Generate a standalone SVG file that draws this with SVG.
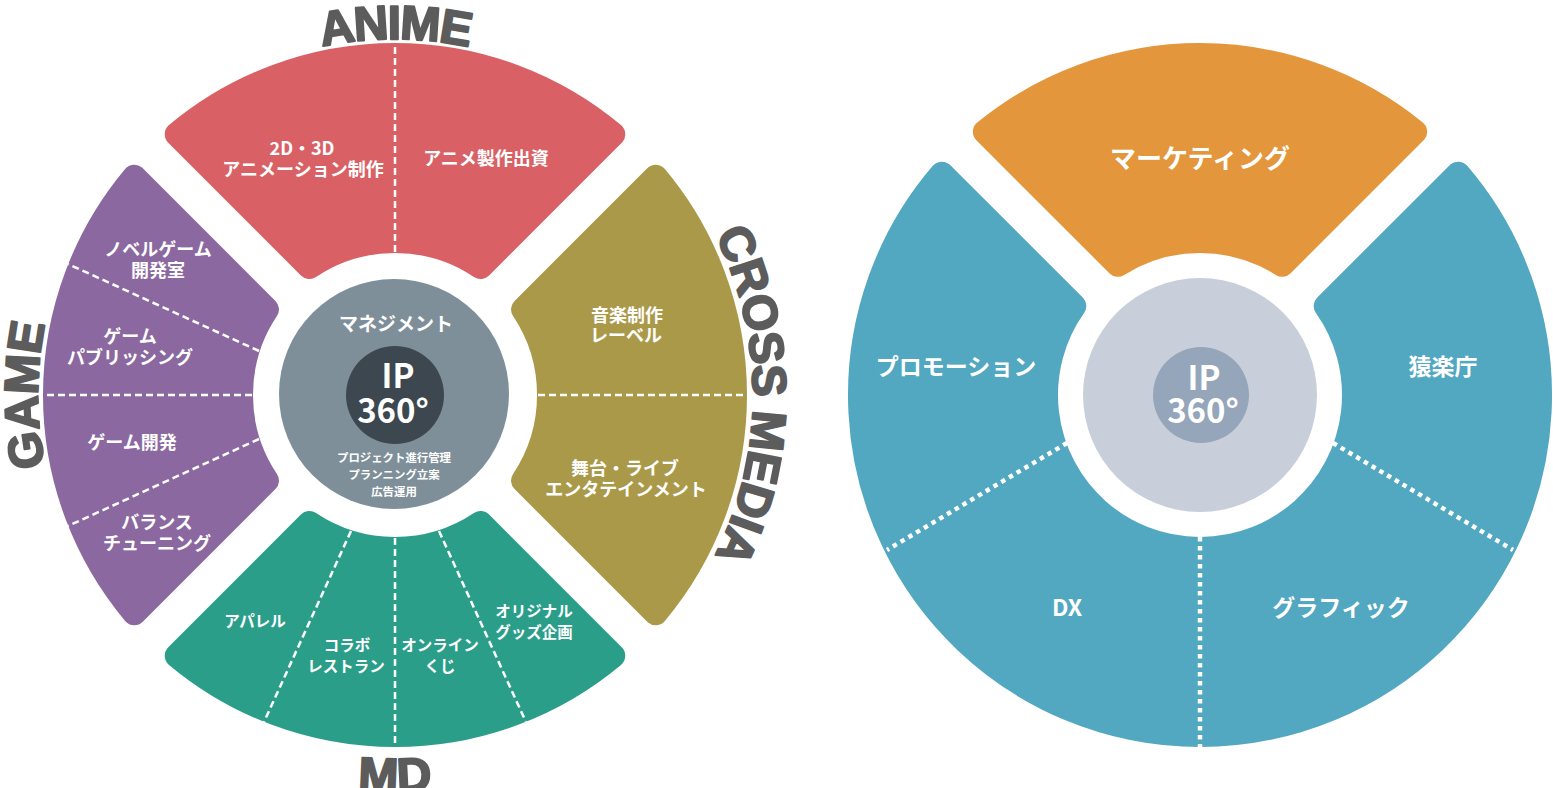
<svg xmlns="http://www.w3.org/2000/svg" width="1553" height="788" viewBox="0 0 1553 788">
<style>
.seg{stroke-width:24;stroke-linejoin:round}
.lbl{font-family:"Noto Sans CJK JP","Noto Sans",sans-serif;font-weight:700;font-size:18px;fill:#fff;text-anchor:middle}
.md{font-size:15.5px}
.sm{font-size:11.4px}
.mg{font-size:19px}
.big{font-size:33px}
.rl{font-size:23px}
.mk{font-size:26px}
.head{font-family:"Liberation Sans","Arial",sans-serif;font-weight:700;font-size:48px;fill:#5c5c5c;stroke:#5c5c5c;stroke-width:2;stroke-linejoin:round}
.dash{stroke:#fff;stroke-width:2.5;stroke-dasharray:7 4;fill:none}
.dot{stroke:#fff;stroke-width:4.5;stroke-dasharray:4.5 4.5;fill:none}
</style>
<defs>
<path id="segL" d="M-218.27,-260.7 A340 340 0 0 1 218.27,-260.7 L85.6,-128.03 A154 154 0 0 0 -85.6,-128.03 Z"/>
<path id="arcTop" d="M39,395 A356 356 0 0 1 751,395"/>
<path id="arcLeft" d="M395,752 A357 357 0 0 1 395,38"/>
<path id="arcRight" d="M395,37 A358 358 0 0 1 395,753"/>
<path id="arcBottom" d="M-2,395 A397 397 0 0 0 792,395"/>
</defs>

<g id="anime">
<use href="#segL" class="seg" transform="translate(395,395)" fill="#D96166" stroke="#D96166"/>
<text class="lbl" x="302" y="155">2D・3D</text>
<text class="lbl" x="303" y="176">アニメーション制作</text>
<text class="lbl" x="486" y="165">アニメ製作出資</text>
<text class="head" font-size="50" letter-spacing="-1.5"><textPath href="#arcTop" startOffset="50%" text-anchor="middle">ANIME</textPath></text>
</g>

<g id="crossmedia">
<use href="#segL" class="seg" transform="translate(395,395) rotate(90)" fill="#AB994A" stroke="#AB994A"/>
<text class="lbl" x="627" y="322">音楽制作</text>
<text class="lbl" x="626" y="342">レーベル</text>
<text class="lbl" x="625" y="475">舞台・ライブ</text>
<text class="lbl" x="626" y="496">エンタテインメント</text>
<text class="head" font-size="46" letter-spacing="-0.5"><textPath href="#arcRight" startOffset="50%" text-anchor="middle">CROSS MEDIA</textPath></text>
</g>

<g id="md">
<use href="#segL" class="seg" transform="translate(395,395) rotate(180)" fill="#2B9E8A" stroke="#2B9E8A"/>
<text class="lbl md" x="255" y="627">アパレル</text>
<text class="lbl md" x="347" y="651">コラボ</text>
<text class="lbl md" x="346" y="672">レストラン</text>
<text class="lbl md" x="440" y="651">オンライン</text>
<text class="lbl md" x="440" y="672">くじ</text>
<text class="lbl md" x="534" y="617">オリジナル</text>
<text class="lbl md" x="534" y="638">グッズ企画</text>
<text class="head"><textPath href="#arcBottom" startOffset="50%" text-anchor="middle">MD</textPath></text>
</g>

<g id="game">
<use href="#segL" class="seg" transform="translate(395,395) rotate(270)" fill="#8B69A0" stroke="#8B69A0"/>
<text class="lbl" x="158" y="256">ノベルゲーム</text>
<text class="lbl" x="158" y="277">開発室</text>
<text class="lbl" x="130" y="343">ゲーム</text>
<text class="lbl" x="130" y="364">パブリッシング</text>
<text class="lbl" x="132" y="449">ゲーム開発</text>
<text class="lbl" x="157" y="529">バランス</text>
<text class="lbl" x="157" y="550">チューニング</text>
<text class="head"><textPath href="#arcLeft" startOffset="50%" text-anchor="middle">GAME</textPath></text>
</g>

<g id="management">
<circle cx="394" cy="394" r="115" fill="#7E8F99"/>
<circle cx="395" cy="395" r="49" fill="#3D4750"/>
<text class="lbl mg" x="396" y="331">マネジメント</text>
<text class="lbl big" x="398" y="388">IP</text>
<text class="lbl big" x="393" y="423">360°</text>
<text class="lbl sm" x="394" y="462">プロジェクト進行管理</text>
<text class="lbl sm" x="394" y="479">プランニング立案</text>
<text class="lbl sm" x="394" y="496">広告運用</text>
</g>

<g id="marketing">
<path class="seg" transform="translate(1200,395)" fill="#E3963B" stroke="#E3963B" d="M-215.17,-263.25 A340 340 0 0 1 215.17,-263.25 L82.17,-130.25 A154 154 0 0 0 -82.17,-130.25 Z"/>
<text class="lbl mk" x="1200" y="168">マーケティング</text>
</g>

<g id="blue-ring">
<path class="seg" transform="translate(1200,395)" fill="#52A7C1" stroke="#52A7C1" d="M-258.1,-221.33 A340 340 0 1 0 258.1,-221.33 L125.72,-88.95 A154 154 0 1 1 -125.72,-88.95 Z"/>
<text class="lbl rl" x="956" y="375">プロモーション</text>
<text class="lbl rl" x="1443" y="375">猿楽庁</text>
<text class="lbl rl" x="1067" y="616">DX</text>
<text class="lbl rl" x="1341" y="616">グラフィック</text>
</g>

<g id="ip-center">
<circle cx="1200" cy="395" r="117" fill="#C8CFDA"/>
<circle cx="1201" cy="395" r="48" fill="#95A5BA"/>
<text class="lbl big" x="1204" y="390">IP</text>
<text class="lbl big" x="1203" y="423">360°</text>
</g>

<g id="dividers">
<g transform="translate(395,395)">
<line class="dash" x1="0" y1="-143" x2="0" y2="-352"/>
<line class="dash" x1="143" y1="0" x2="352" y2="0"/>
<line class="dash" x1="-143" y1="0" x2="-352" y2="0"/>
<line class="dash" x1="-136" y1="-44" x2="-327" y2="-131"/>
<line class="dash" x1="-136" y1="44" x2="-327" y2="131"/>
<line class="dash" x1="0" y1="143" x2="0" y2="352"/>
<line class="dash" x1="-44" y1="136" x2="-131" y2="327"/>
<line class="dash" x1="44" y1="136" x2="131" y2="327"/>
</g>
<g transform="translate(1200,395)">
<line class="dot" x1="-133" y1="48" x2="-313" y2="155"/>
<line class="dot" x1="133" y1="48" x2="313" y2="155"/>
<line class="dot" x1="0" y1="142" x2="0" y2="352"/>
</g>
</g>
</svg>
